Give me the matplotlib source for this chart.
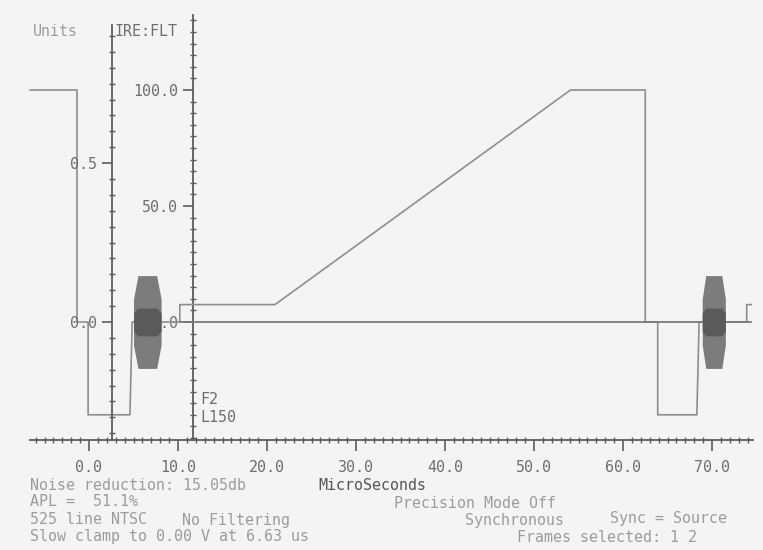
import matplotlib
matplotlib.use('Agg')
import numpy as np
from matplotlib import pyplot as plt
from matplotlib.ticker import FixedLocator, FormatStrFormatter

# one video line (IRE) against time in microseconds
trace_us = [-6.6, -1.35, -1.35, -0.1, -0.1, 4.6, 4.85, 10.2, 10.2, 20.9, 54.1, 62.5, 62.5, 63.9, 63.9, 68.3, 68.55, 73.9, 73.9, 74.4]
trace_ire = [100, 100, 0, 0, -40, -40, 0, 0, 7.5, 7.5, 100, 100, 0, 0, -40, -40, 0, 0, 7.5, 7.5]

# colour burst envelopes
burst1_us = [5.0, 5.5, 7.6, 8.1]
burst2_us = [68.9, 69.3, 71.1, 71.5]
burst_amp = [10, 20, 20, 10]
burst_core = [4, 6, 6, 4]

# zero reference line
zero_us = [10.2, 74.4]
zero_ire = [0, 0]

x_major = [0, 10, 20, 30, 40, 50, 60, 70]
ire_major = [0, 50, 100]
units_major = [0.0, 0.5]

V_PER_IRE = 0.0073

plt.rcParams['font.family'] = ['DejaVu Sans Mono']
plt.rcParams['font.size'] = 10.8

fig = plt.figure(figsize=(7.63, 5.5), dpi=100, facecolor='#f4f4f4')
ax = fig.add_axes([0, 0, 1, 1])
ax.set_facecolor('#f4f4f4')

# pixel mapping of the screen: 0 us at px 89, 8.9 px/us; 0 IRE at px 322, 2.32 px/IRE
ax.set_xlim(-89 / 8.9, (763 - 89) / 8.9)
ax.set_ylim((322 - 550) / 2.32, 322 / 2.32)

axis_col = '#5c5c5c'
trace_col = '#8e8e8e'
text_col = '#9c9c9c'
label_col = '#6e6e6e'

ax.plot(trace_us, trace_ire, color=trace_col, lw=1.2, zorder=3)
ax.plot(zero_us, zero_ire, color='#7a7a7a', lw=1.3, zorder=3)

for bx in (burst1_us, burst2_us):
    ax.fill_between(bx, [-a for a in burst_amp], burst_amp, color='#7c7c7c', lw=0, zorder=4)
    ax.fill_between(bx, [-a for a in burst_core], burst_core, color='#5a5a5a', lw=0, zorder=4)

for s in ['top', 'right']:
    ax.spines[s].set_visible(False)
ax.spines['left'].set_position(('data', 11.7))
ax.spines['bottom'].set_position(('data', -51))
ax.spines['left'].set_bounds(-51, 132.5)
ax.spines['bottom'].set_bounds(-6.6, 74.6)
for s in ['left', 'bottom']:
    ax.spines[s].set_color(axis_col)
    ax.spines[s].set_linewidth(1.3)

ax.xaxis.set_major_locator(FixedLocator(x_major))
ax.xaxis.set_minor_locator(FixedLocator(np.arange(-6, 75, 1)))
ax.xaxis.set_major_formatter(FormatStrFormatter('%.1f'))
ax.tick_params(axis='x', which='major', direction='out', length=8, width=1.2,
               color=axis_col, labelcolor=label_col, pad=6)
ax.tick_params(axis='x', which='minor', direction='inout', length=5, width=1.0, color=axis_col)

ax.yaxis.set_major_locator(FixedLocator(ire_major))
ax.yaxis.set_minor_locator(FixedLocator(np.arange(-50, 131, 5)))
ax.yaxis.set_major_formatter(FormatStrFormatter('%.1f'))
ax.tick_params(axis='y', which='major', direction='out', length=7, width=1.2,
               color=axis_col, labelcolor=label_col, pad=4)
ax.tick_params(axis='y', which='minor', direction='inout', length=5, width=1.0, color=axis_col)

# Units (volts) axis
ax2 = ax.twinx()
lo, hi = ax.get_ylim()
ax2.set_ylim(lo * V_PER_IRE, hi * V_PER_IRE)
ax2.yaxis.tick_left()
for s in ['top', 'right', 'bottom']:
    ax2.spines[s].set_visible(False)
ax2.spines['left'].set_visible(True)
ax2.spines['left'].set_position(('data', 2.6))
ax2.spines['left'].set_bounds(-51 * V_PER_IRE, 128 * V_PER_IRE)
ax2.spines['left'].set_color(axis_col)
ax2.spines['left'].set_linewidth(1.3)
ax2.yaxis.set_major_locator(FixedLocator(units_major))
ax2.yaxis.set_minor_locator(FixedLocator(np.arange(-0.35, 0.93, 0.05)))
ax2.yaxis.set_major_formatter(FormatStrFormatter('%.1f'))
ax2.tick_params(axis='y', which='major', direction='out', length=7, width=1.2,
                color=axis_col, labelcolor=label_col, pad=4)
ax2.tick_params(axis='y', which='minor', direction='inout', length=5, width=1.0, color=axis_col)


def put(x, y, s, color=text_col, **kw):
    fig.text(x / 763, 1 - y / 550, s, color=color, ha='left', va='center', **kw)


put(33, 32, 'Units')
put(115, 31, 'IRE:FLT', color=label_col)
put(200, 400, 'F2', color=label_col)
put(200, 417, 'L150', color=label_col)

put(30, 485, 'Noise reduction: 15.05db')
put(318, 485, 'MicroSeconds', color='#555555')
put(30, 501, 'APL =  51.1%')
put(394, 503, 'Precision Mode Off')
put(30, 520, '525 line NTSC')
put(182, 520, 'No Filtering')
put(465, 520, 'Synchronous')
put(610, 518, 'Sync = Source')
put(30, 537, 'Slow clamp to 0.00 V at 6.63 us')
put(517, 537, 'Frames selected: 1 2')

fig.savefig('out.png', dpi=100, facecolor=fig.get_facecolor())
